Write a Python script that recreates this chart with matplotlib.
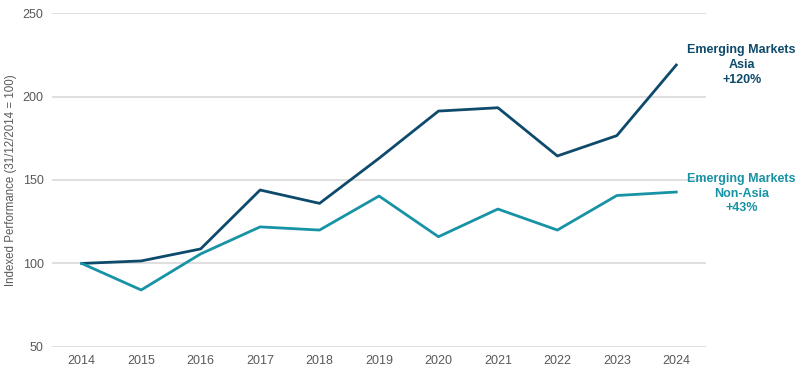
import matplotlib
matplotlib.use("Agg")
import matplotlib.pyplot as plt

years = ["2014", "2015", "2016", "2017", "2018", "2019", "2020", "2021", "2022", "2023", "2024"]
asia = [100, 101.5, 108.7, 144, 136, 163, 191.3, 193.3, 164.4, 176.6, 218.9]
non_asia = [100, 84.1, 105.7, 121.9, 120, 140.4, 116, 132.6, 120, 140.7, 142.8]

asia_label = "Emerging Markets\nAsia\n+120%"
non_asia_label = "Emerging Markets\nNon-Asia\n+43%"

navy = "#0e4a6c"
teal = "#1793a5"
grey = "#595959"

plt.rcParams['font.family'] = ['Liberation Sans', 'DejaVu Sans']

fig = plt.figure(figsize=(8, 3.75), dpi=100)
ax = fig.add_axes([0.065, 0.075, 0.8175, 0.89])

x = list(range(len(years)))
ax.plot(x, asia, color=navy, lw=2)
ax.plot(x, non_asia, color=teal, lw=2)

ax.set_xlim(-0.5, len(years) - 0.5)
ax.set_ylim(50, 250)
ax.set_yticks([50, 100, 150, 200, 250])
ax.set_xticks(x)
ax.set_xticklabels(years)
ax.grid(axis='y', color='#d9d9d9', lw=1.2)
ax.set_axisbelow(True)
for s in ax.spines.values():
    s.set_visible(False)
ax.tick_params(length=0, labelsize=9, colors=grey, pad=6)
ax.set_ylabel("Indexed Performance (31/12/2014 = 100)", fontsize=8.3, color=grey, labelpad=4)

# end-of-line labels
ax.text(11.1, asia[-1], asia_label, color=navy, fontsize=9, fontweight='bold',
        ha='center', va='center', linespacing=1.3, clip_on=False)
ax.text(11.1, non_asia[-1] - 1, non_asia_label, color=teal, fontsize=9, fontweight='bold',
        ha='center', va='center', linespacing=1.3, clip_on=False)

fig.savefig("out.png", dpi=100)
